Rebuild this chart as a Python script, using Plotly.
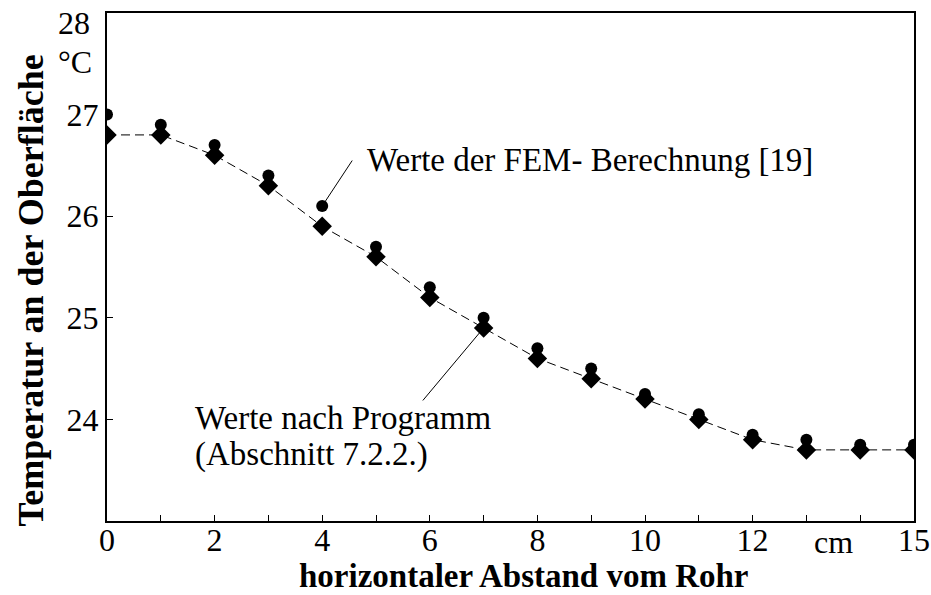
import plotly.graph_objects as go

# Data
x_cm = list(range(0, 16))
fem_values = [27.0, 26.9, 26.7, 26.4, 26.1, 25.7, 25.3, 25.0, 24.7, 24.5, 24.25, 24.05, 23.85, 23.8, 23.75, 23.75]
prog_values = [26.8, 26.8, 26.6, 26.3, 25.9, 25.6, 25.2, 24.9, 24.6, 24.4, 24.2, 24.0, 23.8, 23.7, 23.7, 23.7]

x_tickvals = list(range(0, 16))
x_ticktext = ["0", "", "2", "", "4", "", "6", "", "8", "", "10", "", "12", "", "", "15"]
y_tickvals = [24, 25, 26, 27]
y_ticktext = ["24", "25", "26", "27"]

FONT = "Liberation Serif, Times New Roman, DejaVu Serif, serif"

fig = go.Figure()

fig.add_trace(go.Scatter(
    x=x_cm, y=prog_values, mode="lines+markers",
    line=dict(color="black", width=1, dash="9px,5px"),
    marker=dict(symbol="diamond", size=15, color="black"),
    name="Werte nach Programm", showlegend=False,
))
fig.add_trace(go.Scatter(
    x=x_cm, y=fem_values, mode="markers",
    marker=dict(symbol="circle", size=12, color="black"),
    name="Werte der FEM- Berechnung", showlegend=False,
))

def txt(size=32):
    return dict(family=FONT, size=size, color="black")

annotations = [
    # FEM label + pointer
    dict(x=4.80, y=26.555, xref="x", yref="y", text="Werte der FEM- Berechnung [19]",
         showarrow=False, xanchor="left", yanchor="middle", font=txt(33)),
    dict(x=x_cm[4], y=fem_values[4], xref="x", yref="y", text="", showarrow=True,
         ax=31, ay=-47, arrowhead=0, arrowwidth=1, arrowcolor="black", standoff=4),
    # Programm label + pointer
    dict(x=1.60, y=24.01, xref="x", yref="y", text="Werte nach Programm",
         showarrow=False, xanchor="left", yanchor="middle", font=txt(33)),
    dict(x=1.60, y=23.65, xref="x", yref="y", text="(Abschnitt 7.2.2.)",
         showarrow=False, xanchor="left", yanchor="middle", font=txt(33)),
    dict(x=x_cm[7], y=prog_values[7], xref="x", yref="y", text="", showarrow=True,
         ax=-62, ay=74, arrowhead=0, arrowwidth=1, arrowcolor="black", standoff=4),
    # top y label and unit
    dict(x=-0.018, y=27.9, xref="paper", yref="y", text="28", showarrow=False,
         xanchor="right", yanchor="middle", font=txt()),
    dict(x=-0.016, y=27.52, xref="paper", yref="y", text="°C", showarrow=False,
         xanchor="right", yanchor="middle", font=txt()),
    dict(x=13.5, y=0.0, xref="x", yref="paper", text="cm", showarrow=False,
         xanchor="center", yanchor="top", yshift=-1, font=txt()),
    # axis titles
    dict(x=0.517, y=-0.109, xref="paper", yref="paper", text="<b>horizontaler Abstand vom Rohr</b>",
         showarrow=False, xanchor="center", yanchor="middle", borderpad=0, font=txt(33)),
    dict(x=-0.094, y=25.27, xref="paper", yref="y", text="<b>Temperatur an der Oberfläche</b>",
         showarrow=False, xanchor="center", yanchor="middle", textangle=-90, font=txt(36)),
]

fig.update_layout(
    width=931, height=595,
    margin=dict(l=107, r=17, t=13, b=74, autoexpand=False),
    paper_bgcolor="white", plot_bgcolor="white",
    font=txt(),
    annotations=annotations,
    showlegend=False,
)
fig.update_xaxes(
    range=[0, 15], tickvals=x_tickvals, ticktext=x_ticktext,
    ticks="inside", ticklen=6, tickcolor="black", tickwidth=1,
    showline=True, linecolor="black", linewidth=2, mirror=True,
    showgrid=False, zeroline=False, ticklabelstandoff=-10,
    ticklabeloverflow="allow", automargin=False,
    tickfont=txt(),
)
fig.update_yaxes(
    range=[23, 28], tickvals=y_tickvals, ticktext=y_ticktext,
    ticks="inside", ticklen=6, tickcolor="black", tickwidth=1,
    showline=True, linecolor="black", linewidth=2, mirror=True,
    showgrid=False, zeroline=False, ticklabeloverflow="allow", automargin=False,
    tickfont=txt(),
)

fig.write_html("out.html", config={"displayModeBar": False},
               post_script="document.body.style.margin='0px';")
